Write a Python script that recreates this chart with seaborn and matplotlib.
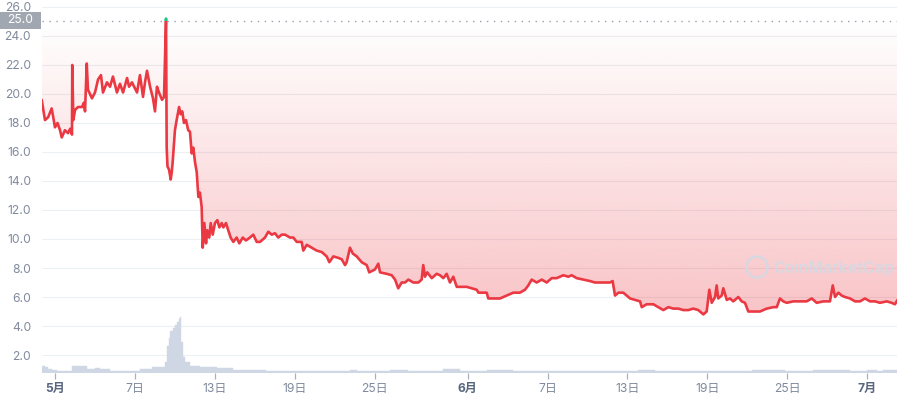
import numpy as np
import pandas as pd
import matplotlib
matplotlib.use("Agg")
import matplotlib.pyplot as plt
import seaborn as sns
from matplotlib.patches import Rectangle, Ellipse
from matplotlib.colors import to_rgb
from matplotlib import transforms

# ---------------- data (days since 1 May) ----------------
day = [
    -1.04, -0.79, -0.55, -0.29, -0.15, -0.04, 0.15, 0.34, 0.47, 0.71,
    0.94, 1.10, 1.24, 1.26, 1.34, 1.47, 1.69, 1.99, 2.14, 2.22,
    2.35, 2.44, 2.74, 2.97, 3.20, 3.42, 3.57, 3.87, 4.10, 4.32,
    4.62, 4.85, 5.08, 5.38, 5.53, 5.75, 6.13, 6.35, 6.58, 6.73,
    6.88, 7.11, 7.33, 7.48, 7.63, 7.78, 8.01, 8.16, 8.31, 8.36,
    8.42, 8.53, 8.61, 8.66, 8.74, 8.81, 8.98, 9.11, 9.29, 9.41,
    9.53, 9.66, 9.81, 9.98, 10.11, 10.24, 10.36, 10.49, 10.62, 10.74,
    10.86, 10.99, 11.07, 11.19, 11.32, 11.41, 11.56, 11.67, 11.82, 11.99,
    12.17, 12.32, 12.50, 12.62, 12.82, 12.99, 13.17, 13.37, 13.62, 13.82,
    14.08, 14.32, 14.62, 14.87, 15.13, 15.38, 15.75, 16.00, 16.26, 16.50,
    16.75, 17.01, 17.26, 17.63, 17.88, 18.14, 18.51, 18.63, 18.89, 19.26,
    19.64, 20.02, 20.39, 20.59, 20.89, 21.26, 21.52, 21.77, 21.89, 22.14,
    22.35, 22.65, 23.02, 23.40, 23.59, 24.02, 24.27, 24.40, 24.90, 25.28,
    25.53, 25.77, 26.03, 26.28, 26.53, 26.90, 27.28, 27.53, 27.65, 27.78,
    27.95, 28.29, 28.66, 28.91, 29.16, 29.41, 29.66, 29.91, 30.17, 30.54,
    30.92, 31.29, 31.67, 31.80, 32.17, 32.42, 32.54, 32.92, 33.42, 33.92,
    34.42, 34.92, 35.30, 35.55, 35.80, 36.18, 36.56, 36.93, 37.31, 37.68,
    38.18, 38.56, 38.81, 39.19, 39.68, 40.19, 40.56, 40.94, 41.32, 41.69,
    41.89, 42.07, 42.32, 42.69, 42.95, 43.20, 43.57, 43.95, 44.08, 44.45,
    44.95, 45.32, 45.70, 46.08, 46.45, 46.83, 47.20, 47.58, 47.95, 48.33,
    48.71, 48.96, 49.16, 49.34, 49.59, 49.71, 49.83, 50.09, 50.21, 50.47,
    50.71, 50.96, 51.34, 51.59, 51.84, 52.09, 52.47, 52.97, 53.47, 53.97,
    54.23, 54.47, 54.72, 54.98, 55.47, 55.98, 56.48, 56.86, 57.23, 57.73,
    58.23, 58.44, 58.61, 58.86, 59.11, 59.36, 59.74, 60.11, 60.49, 60.86,
    61.24, 61.62, 61.99, 62.50, 62.87, 63.12, 63.30,
]
price = [
    19.6, 18.2, 18.4, 19.0, 18.3, 17.7, 18.0, 17.5, 17.0, 17.5,
    17.3, 17.6, 17.2, 22.0, 18.2, 18.9, 19.1, 19.1, 19.4, 18.8,
    22.1, 20.3, 19.7, 20.1, 21.0, 21.3, 20.1, 20.8, 20.5, 21.2,
    20.1, 20.7, 20.1, 21.1, 20.5, 20.8, 20.1, 21.3, 19.8, 20.8,
    21.6, 20.5, 19.7, 18.8, 20.5, 20.1, 19.6, 19.8, 25.2, 16.3,
    15.0, 14.8, 14.4, 14.1, 14.6, 15.3, 17.5, 18.2, 19.1, 18.6,
    18.8, 18.0, 18.2, 17.5, 17.4, 15.9, 16.3, 15.3, 14.6, 12.9,
    13.2, 12.2, 9.4, 11.1, 9.7, 10.6, 10.1, 11.1, 10.3, 11.1,
    11.3, 10.8, 11.1, 10.8, 11.1, 10.6, 10.1, 9.8, 10.1, 9.7,
    10.1, 9.9, 10.1, 10.3, 9.8, 9.8, 10.1, 10.5, 10.3, 10.4,
    10.1, 10.3, 10.3, 10.1, 10.1, 9.8, 9.8, 9.2, 9.6, 9.4,
    9.2, 9.1, 8.8, 8.4, 8.8, 8.7, 8.6, 8.2, 8.4, 9.4,
    9.0, 8.8, 8.4, 8.2, 7.7, 7.9, 8.3, 7.7, 7.6, 7.5,
    7.2, 6.6, 7.0, 7.0, 7.2, 7.0, 7.0, 7.2, 8.2, 7.4,
    7.7, 7.3, 7.6, 7.5, 7.3, 7.6, 7.0, 7.4, 6.7, 6.7,
    6.7, 6.6, 6.5, 6.3, 6.3, 6.3, 5.9, 5.9, 5.9, 6.1,
    6.3, 6.3, 6.5, 6.8, 7.2, 7.0, 7.2, 7.0, 7.3, 7.3,
    7.5, 7.4, 7.5, 7.3, 7.2, 7.1, 7.0, 7.0, 7.0, 7.0,
    7.1, 6.1, 6.3, 6.3, 6.1, 5.9, 5.8, 5.7, 5.3, 5.5,
    5.5, 5.3, 5.1, 5.3, 5.2, 5.2, 5.1, 5.1, 5.2, 5.1,
    4.8, 5.0, 6.5, 5.6, 6.0, 6.8, 5.9, 6.1, 6.6, 5.8,
    5.9, 5.7, 6.0, 5.7, 5.6, 5.0, 5.0, 5.0, 5.2, 5.3,
    5.3, 5.9, 5.7, 5.6, 5.7, 5.7, 5.7, 5.9, 5.6, 5.7,
    5.7, 6.8, 6.0, 6.3, 6.1, 6.0, 5.9, 5.7, 5.7, 5.9,
    5.7, 5.7, 5.6, 5.7, 5.6, 5.5, 5.8,
]

# volume (bin edges in days, values in arbitrary millions)
vol_edges = [
    -1.04, -0.79, -0.54, -0.26, 0.11, 1.24, 1.84, 2.37, 2.97, 3.35,
    4.10, 6.35, 7.26, 8.23, 8.36, 8.50, 8.61, 8.80, 8.98, 9.14,
    9.25, 9.36, 9.47, 9.59, 9.74, 10.11, 10.86, 12.14, 13.35, 15.86,
    18.38, 22.14, 22.67, 25.15, 26.50, 29.14, 30.41, 32.44, 34.40, 36.43,
    37.93, 40.94, 43.80, 45.08, 52.37, 54.85, 56.95, 59.74, 61.02, 61.77,
    62.22, 63.30,
]
volume = [
    3.5, 3.0, 2.0, 1.5, 1.0, 3.5, 3.5, 2.0, 2.5, 2.0,
    1.0, 2.0, 3.0, 5.5, 13.5, 17.5, 21.0, 22.5, 24.0, 25.5,
    27.0, 28.0, 15.5, 8.0, 5.5, 3.5, 3.0, 2.5, 1.5, 1.0,
    1.0, 1.5, 1.0, 1.5, 1.0, 1.8, 1.0, 1.5, 1.0, 1.2,
    1.0, 0.8, 1.5, 0.8, 1.3, 0.8, 1.5, 0.8, 1.3, 0.8,
    1.5,
]

baseline_price = 25.0
y_ticks = [2.0, 4.0, 6.0, 8.0, 10.0, 12.0, 14.0, 16.0, 18.0, 20.0, 22.0, 24.0, 26.0]
x_tick_days = [0, 6, 12, 18, 24, 31, 37, 43, 49, 55, 61]
x_tick_labels = ["5月", "7日", "13日", "19日", "25日", "6月", "7日", "13日", "19日", "25日", "7月"]
month_labels = {"5月", "6月", "7月"}

# ---------------- style ----------------
sns.set_theme(style="white")
plt.rcParams["font.family"] = ["Inter", "Noto Sans CJK SC", "DejaVu Sans"]

RED = "#ea3943"
GREEN = "#16c784"
GREY_TXT = "#808a9d"

fig = plt.figure(figsize=(8.97, 4.0), dpi=100)
rect = [42 / 897, 27 / 400, 855 / 897, 373 / 400]
ax = fig.add_axes(rect)
XMIN, XMAX = -1.015, 63.27
YMIN, YMAX = 0.76, 26.48

df = pd.DataFrame({"day": day, "price": price})

# gradient fill between line and baseline
fb = ax.fill_between(df["day"], df["price"], baseline_price,
                     facecolor="none", edgecolor="none")
clip_path = fb.get_paths()[0]
grad = np.zeros((256, 1, 4))
grad[..., :3] = to_rgb(RED)
grad[:, 0, 3] = np.linspace(0.30, 0.0, 256)
im = ax.imshow(grad, extent=[XMIN, XMAX, min(price), baseline_price],
               origin="lower", aspect="auto", zorder=1, interpolation="bilinear")
im.set_clip_path(clip_path, ax.transData)

# baseline dotted
ax.axhline(baseline_price, color="#9aa1ac", lw=1.0, ls=(0, (1, 4)), zorder=2)

# price line (red below baseline, green above)
sns.lineplot(data=df, x="day", y="price", ax=ax, color=RED, lw=1.9,
             zorder=4, estimator=None, sort=False)
red_line = ax.lines[-1]
sns.lineplot(data=df, x="day", y="price", ax=ax, color=GREEN, lw=1.9,
             zorder=4, estimator=None, sort=False)
green_line = ax.lines[-1]
red_line.set_clip_path(Rectangle((XMIN, YMIN), XMAX - XMIN, baseline_price - YMIN,
                                 transform=ax.transData))
green_line.set_clip_path(Rectangle((XMIN, baseline_price), XMAX - XMIN, YMAX - baseline_price,
                                   transform=ax.transData))

# axes styling
ax.set_xlim(XMIN, XMAX)
ax.set_ylim(YMIN, YMAX)
ax.set_yticks(y_ticks)
ax.set_yticklabels([f"{v:.1f}" for v in y_ticks])
ax.yaxis.grid(True, color="#eceff3", lw=0.8)
ax.xaxis.grid(False)
ax.set_axisbelow(True)
for s in ax.spines.values():
    s.set_visible(False)
ax.set_xlabel("")
ax.set_ylabel("")
ax.tick_params(axis="y", length=0, pad=8, labelsize=8.7, labelcolor=GREY_TXT)
ax.set_xticks(x_tick_days)
ax.set_xticklabels(x_tick_labels)
ax.tick_params(axis="x", length=4, width=0.9, color="#a6b0c3", pad=3,
               labelsize=8.7, labelcolor=GREY_TXT, bottom=True)
for lbl in ax.get_xticklabels():
    if lbl.get_text() in month_labels:
        lbl.set_fontweight("bold")
        lbl.set_color("#58667e")

# baseline value tag
trans = transforms.blended_transform_factory(ax.transAxes, ax.transData)
ax.add_patch(Rectangle((-42 / 855, 24.48), 41 / 855, 1.18, transform=trans,
                       clip_on=False, facecolor="#a1a7b1", edgecolor="none", zorder=6))
ax.text(-21.5 / 855, 25.07, f"{baseline_price:.1f}", transform=trans, ha="center",
        va="center", color="white", fontsize=8.7, zorder=7, clip_on=False)

# volume on twin axis
ax2 = ax.twinx()
sns.histplot(x=vol_edges[:-1], weights=volume, bins=vol_edges, ax=ax2,
             color="#cfd6e4", alpha=1.0, edgecolor="#cfd6e4", linewidth=0.3)
ax2.set_ylim(0, 186.5)
ax2.set_xlim(XMIN, XMAX)
ax2.axis("off")

# watermark
wm = "#d3d9e3"
fig.text(834 / 897, 1 - 268 / 400, "CoinMarketCap", ha="center", va="center",
         fontsize=11.5, color=wm, fontweight="semibold", alpha=0.9)
fig.add_artist(Ellipse((757 / 897, 1 - 267 / 400), 21 / 897, 21 / 400,
                       transform=fig.transFigure, fill=False, edgecolor=wm, lw=1.8, alpha=0.9))

fig.savefig("out.png", dpi=100)
